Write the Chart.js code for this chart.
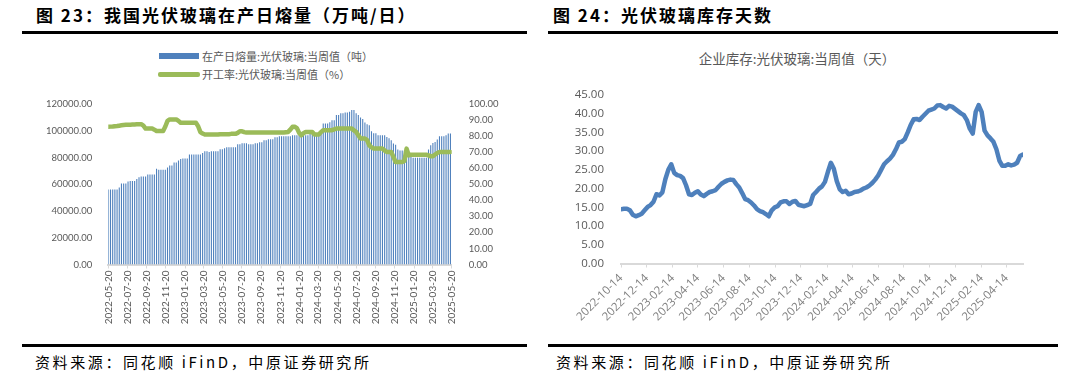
<!DOCTYPE html>
<html><head><meta charset="utf-8">
<script src="https://cdn.jsdelivr.net/npm/chart.js@4/dist/chart.umd.min.js"></script>
<style>
body{margin:0;width:1065px;height:379px;background:#fff;position:relative;overflow:hidden;font-family:"Noto Sans CJK SC",sans-serif}
.abs{position:absolute;white-space:nowrap}
.title{font-weight:bold;font-size:17px;letter-spacing:2px;color:#000;top:5px;line-height:20px}
.rule{height:3px;background:#000}
.src{font-size:15px;letter-spacing:2.6px;top:352px;line-height:20px;color:#000}
.leg{font-size:11px;line-height:14px;color:#595959}
canvas{position:absolute;top:0}
</style></head><body>
<div class="abs title" style="left:36px">图 23：我国光伏玻璃在产日熔量（万吨/日）</div>
<div class="abs title" style="left:553px">图 24：光伏玻璃库存天数</div>
<div class="abs rule" style="left:22px;top:31px;width:505px"></div>
<div class="abs rule" style="left:548px;top:31px;width:510px"></div>
<div class="abs rule" style="left:22px;top:344px;width:505px"></div>
<div class="abs rule" style="left:548px;top:344px;width:510px"></div>
<div class="abs src" style="left:35px">资料来源：同花顺 iFinD，中原证券研究所</div>
<div class="abs src" style="left:556px">资料来源：同花顺 iFinD，中原证券研究所</div>

<div class="abs" style="left:159px;top:53px;width:40px;height:6px;background:#4F81BD"></div>
<div class="abs leg" style="left:202px;top:49px">在产日熔量:光伏玻璃:当周值（吨）</div>
<div class="abs" style="left:158px;top:72px;width:42px;height:4.5px;border-radius:2px;background:#9BBB59"></div>
<div class="abs leg" style="left:202px;top:67px">开工率:光伏玻璃:当周值（%）</div>

<div class="abs" style="left:597px;top:49px;width:400px;text-align:center;font-size:13.5px;line-height:18px;color:#595959">企业库存:光伏玻璃:当周值（天）</div>

<canvas id="c1" width="530" height="340" style="left:0"></canvas>
<canvas id="c2" width="525" height="340" style="left:540px"></canvas>

<script>
// ---- Figure 23: weekly data starting 2022-05-20 ----
const meltStart = '2022-05-20';
const meltTicks = ['2022-05-20','2022-07-20','2022-09-20','2022-11-20','2023-01-20','2023-03-20','2023-05-20','2023-07-20','2023-09-20','2023-11-20','2024-01-20','2024-03-20','2024-05-20','2024-07-20','2024-09-20','2024-11-20','2025-01-20','2025-03-20','2025-05-20'];
const meltTon = [
56000,56000,56000,56000,56000,57500,60500,60500,60500,62000,
62500,62500,62500,64000,65300,65800,65800,65800,67300,67300,
67300,67300,71600,70800,70800,70800,70800,72500,74000,74000,
76300,76300,77800,78800,79300,79300,79300,82300,82300,82300,
82300,82300,82300,83300,84600,84600,84100,84600,84600,84600,
84600,86100,86100,86900,87600,87600,87600,87600,87600,89900,
89900,90600,90600,90600,89900,89900,89900,90600,90600,91400,
91400,92900,92900,93600,93600,93600,95100,95100,95900,95900,
95900,95900,95900,95900,96600,96600,96600,96600,95400,96600,
96600,96600,97900,97900,97900,97900,97900,99900,105500,105500,
105500,106400,107900,107900,111700,111700,113000,113000,113700,113700,
114200,115500,115500,113000,111700,110000,108700,106200,104900,104200,
99700,98200,98200,96600,96600,96600,96600,95400,94400,92900,
90400,89600,85900,85300,85300,85300,82900,82900,82900,79800,
79800,79800,79800,79800,79800,79800,85900,89100,90800,91600,
93400,95900,95900,95900,96600,97900,97900];
const utilRate = [
85.8,85.9,86.0,86.2,86.3,86.5,86.7,86.9,87.0,87.0,
87.1,87.2,87.3,87.4,87.4,87.4,86.5,84.7,84.7,84.7,
84.7,84.0,83.2,83.2,83.2,83.2,86.0,89.5,90.4,90.4,
90.4,90.4,89.5,88.3,88.3,88.3,88.3,88.3,88.3,88.3,
88.3,86.0,82.5,81.6,81.0,81.0,81.0,81.0,81.0,81.0,
81.0,81.2,81.2,81.2,81.2,81.2,81.4,81.4,81.4,82.0,
83.0,83.0,82.5,82.2,82.2,82.2,82.2,82.2,82.2,82.2,
82.2,82.2,82.2,82.2,82.2,82.2,82.2,82.2,82.2,82.2,
82.2,82.4,82.6,84.0,85.8,85.8,85.0,82.0,80.5,81.8,
82.6,82.6,82.6,82.6,81.0,81.0,81.0,82.5,83.7,83.7,
83.7,83.7,83.7,84.2,84.7,84.7,84.7,84.7,84.7,84.7,
84.7,84.7,83.5,82.6,80.5,78.5,78.5,78.5,77.5,74.3,
73.0,72.2,72.2,72.2,72.2,72.2,71.0,70.1,70.1,70.1,
67.0,63.8,63.8,63.8,63.8,64.5,72.2,68.0,68.4,68.4,
68.4,68.4,68.4,68.4,68.4,68.4,68.0,67.4,67.4,68.5,
69.5,70.1,70.1,70.1,70.1,70.1,70.1];

// ---- Figure 24: weekly data starting 2022-10-14 ----
const invStart = '2022-10-14';
const invTicks = ['2022-10-14','2022-12-14','2023-02-14','2023-04-14','2023-06-14','2023-08-14','2023-10-14','2023-12-14','2024-02-14','2024-04-14','2024-06-14','2024-08-14','2024-10-14','2024-12-14','2025-02-14','2025-04-14'];
const invDays = [
14.5,14.6,14.6,14.2,13.0,12.6,12.9,13.3,14.2,15.1,
15.6,16.5,18.5,18.2,19.0,22.5,25.0,26.5,24.2,23.6,
23.4,22.8,20.9,18.5,18.3,18.9,19.3,18.4,18.0,18.6,
19.1,19.3,19.6,20.5,21.3,21.8,22.2,22.4,22.3,21.2,
20.3,18.8,17.2,16.9,16.3,15.5,14.5,14.0,13.7,13.2,
12.6,14.2,15.0,15.3,16.3,16.6,16.6,15.9,16.5,16.7,
15.7,15.5,15.3,15.6,15.9,18.3,19.1,20.0,20.6,21.8,
24.5,26.9,25.3,22.0,19.8,19.1,19.4,18.5,18.7,19.1,
19.2,19.5,20.0,20.3,20.8,21.5,22.4,23.5,25.0,26.5,
27.3,28.0,29.0,30.5,32.3,32.5,33.2,35.0,37.0,38.5,
38.6,38.3,39.2,40.0,40.8,41.1,41.4,42.2,42.3,41.8,
41.4,42.1,41.9,41.3,40.7,40.1,39.6,38.3,36.0,34.7,
40.5,42.3,40.5,35.5,34.2,33.4,32.5,30.5,27.5,26.1,
26.1,26.5,26.2,26.4,26.9,28.7,29.1];

const DAY = 86400000;
const dayOf = (s, start) => Math.round((Date.parse(s) - Date.parse(start)) / DAY);
const weekly = (arr) => arr.map((v, i) => ({x: i * 7, y: v}));

Chart.defaults.font.family = 'Lato, "Liberation Sans", "Noto Sans CJK SC", sans-serif';
Chart.defaults.color = '#595959';

const meltTickDays = meltTicks.map(s => dayOf(s, meltStart));
const invTickDays = invTicks.map(s => dayOf(s, invStart));
const fmt2 = v => Number(v).toFixed(2);

new Chart(document.getElementById('c1'), {
  type: 'bar',
  data: {datasets: [
    {type: 'line', label: '开工率:光伏玻璃:当周值（%）', data: weekly(utilRate), yAxisID: 'y1',
     borderColor: '#9BBB59', borderWidth: 4.5, pointRadius: 0, tension: 0, order: 0,
     borderJoinStyle: 'round', borderCapStyle: 'round'},
    {type: 'bar', label: '在产日熔量:光伏玻璃:当周值（吨）', data: weekly(meltTon), yAxisID: 'y',
     backgroundColor: '#4F81BD', barPercentage: 0.5, categoryPercentage: 1, order: 1}
  ]},
  options: {
    responsive: false, animation: false, devicePixelRatio: 1,
    layout: {padding: {top: 104, left: 0, right: 0, bottom: 0}},
    plugins: {legend: {display: false}, tooltip: {enabled: false}},
    scales: {
      x: {type: 'linear', min: 0, max: meltTickDays[meltTickDays.length - 1], offset: false,
        afterBuildTicks: ax => { ax.ticks = meltTickDays.map(v => ({value: v})); },
        afterFit: ax => { ax.height = 75.5; },
        grid: {display: true, offset: false, drawOnChartArea: false, drawTicks: true, tickLength: 4, color: '#D9D9D9', lineWidth: 1},
        border: {display: true, color: '#D9D9D9', width: 2},
        ticks: {autoSkip: false, minRotation: 90, maxRotation: 90, padding: 2, font: {size: 10}, callback: (v, i) => meltTicks[i]}
      },
      y: {position: 'left', min: 0, max: 120000, afterFit: ax => { ax.width = 108.3; },
        grid: {display: false}, border: {display: false},
        ticks: {stepSize: 20000, padding: 8, font: {size: 9.5}, callback: fmt2}},
      y1: {position: 'right', min: 0, max: 100, afterFit: ax => { ax.width = 78.3; },
        grid: {display: false}, border: {display: false},
        ticks: {stepSize: 10, padding: 9, font: {size: 9.5}, callback: fmt2}}
    }
  }
});

const invPts = weekly(invDays);
new Chart(document.getElementById('c2'), {
  type: 'line',
  data: {datasets: [
    {label: '企业库存:光伏玻璃:当周值（天）', data: invPts, borderColor: '#4E80BC', borderWidth: 4.5,
     pointRadius: 0, tension: 0, borderJoinStyle: 'round', borderCapStyle: 'round'}
  ]},
  options: {
    responsive: false, animation: false, devicePixelRatio: 1,
    layout: {padding: {top: 95, left: 0, right: 42, bottom: 0}},
    plugins: {legend: {display: false}, tooltip: {enabled: false}},
    scales: {
      x: {type: 'linear', min: 0, max: invPts[invPts.length - 1].x, offset: false,
        afterBuildTicks: ax => { ax.ticks = invTickDays.map(v => ({value: v})); },
        afterFit: ax => { ax.height = 76.5; },
        grid: {display: true, drawOnChartArea: false, drawTicks: true, tickLength: 4, color: '#D9D9D9', lineWidth: 1},
        border: {display: true, color: '#D9D9D9', width: 2},
        ticks: {autoSkip: false, minRotation: 45, maxRotation: 45, padding: 4, color: '#7f7f7f',
          font: {family: '"Open Sans", "Liberation Sans", sans-serif', size: 11.5}, callback: (v, i) => invTicks[i]}
      },
      y: {min: 0, max: 45, afterFit: ax => { ax.width = 81; },
        grid: {display: false}, border: {display: false},
        ticks: {stepSize: 5, padding: 9, font: {family: '"Open Sans", "Liberation Sans", sans-serif', size: 11.5}, callback: fmt2}}
    }
  }
});
</script>
</body></html>
